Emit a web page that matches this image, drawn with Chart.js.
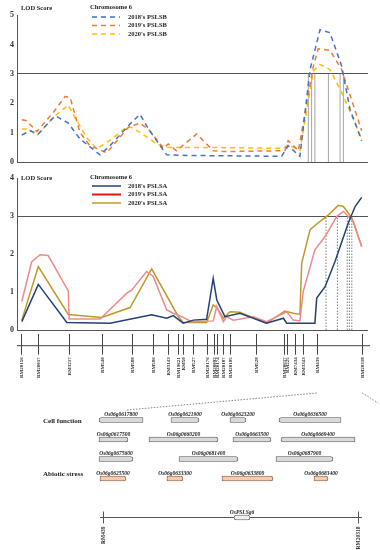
<!DOCTYPE html>
<html>
<head>
<meta charset="utf-8">
<script src="https://cdn.jsdelivr.net/npm/chart.js@4.4.0/dist/chart.umd.min.js"></script>
<style>
  html, body { margin: 0; padding: 0; background: #fff; }
  #wrap { position: relative; width: 380px; height: 550px; overflow: hidden; }
  .box { position: absolute; left: 0; width: 380px; }
</style>
</head>
<body>
<div id="wrap">
  <div class="box" style="top:0;height:170px"><canvas id="pslsb"></canvas></div>
  <div class="box" style="top:165px;height:223px"><canvas id="pslsa"></canvas></div>
  <div class="box" style="top:388px;height:162px"><canvas id="genes"></canvas></div>
</div>
<script>
Chart.defaults.font.family = "'Liberation Serif', serif";
Chart.defaults.animation = false;

// markers on chromosome 6 (cM, estimated from the map)
const markers = ['RM20156','RM20017','RM3217','RM540','RM588','RM586','RM3143','RM19621','RM50','RM527','RM20176','RM20092','RM20174','RM20187','RM20185','RM528','RM20617','RM225','RM7434','RM3343','RM439','RM20318'];
const markerCM = [1.3,6.9,17.3,28.2,38.2,45.4,50.2,53.8,55.4,58.8,63.2,65.8,66.7,68.8,71.0,79.7,89.1,90.1,92.7,95.2,99.9,115.1];
const maxCM = 117;
const lodThreshold = 3;

// PSLSB (top panel)
const pslsbX2018 = [1.6,4.3,7.1,12.7,17.1,21.0,27.7,31.0,37.7,41.0,43.8,49.9,56.6,88.2,90.4,94.3,97.7,101.0,104.3,108.2,111.0,114.9];
const pslsbY2018 = [0.92,1.07,0.96,1.58,1.33,0.79,0.25,0.56,1.30,1.63,1.13,0.25,0.23,0.20,0.56,0.20,3.15,4.50,4.40,3.27,1.80,0.73];
const pslsbX2019 = [1.6,3.2,6.6,12.1,16.0,17.7,21.0,24.3,29.9,37.1,41.0,44.3,48.8,50.4,53.2,59.9,65.4,68.8,89.3,90.4,93.8,98.8,100.4,104.3,108.2,114.9];
const pslsbY2019 = [1.44,1.41,1.04,1.69,2.23,2.20,1.01,0.56,0.32,1.18,1.33,1.07,0.47,0.62,0.39,0.96,0.39,0.36,0.39,0.73,0.39,3.27,3.85,3.80,3.15,1.07];
const pslsbX2020 = [1.6,3.8,6.6,12.1,17.1,19.3,23.2,26.6,31.6,37.1,41.0,46.6,49.9,54.3,65.4,88.8,90.4,94.3,98.8,101.0,104.3,108.8,114.9];
const pslsbY2020 = [1.13,1.13,0.90,1.52,1.94,1.52,0.84,0.45,0.79,1.24,1.01,0.62,0.50,0.50,0.50,0.47,0.60,0.39,3.10,3.32,3.15,2.25,0.79];
const pslsbCuts = [97.1,98.2,99.3,103.8,107.7,108.8];

// PSLSA (middle panel)
const pslsaX2018 = [1.6,7.1,16.6,31.0,44.9,49.9,52.1,55.4,58.8,63.2,65.4,66.6,69.3,74.3,83.2,88.8,89.9,99.3,99.9,102.7,106.0,110.4,112.7,114.9];
const pslsaY2018 = [0.22,1.20,0.20,0.18,0.40,0.31,0.38,0.18,0.26,0.28,1.36,0.79,0.35,0.44,0.18,0.31,0.18,0.18,0.84,1.14,1.80,2.81,3.25,3.49];
const pslsaX2019 = [1.6,4.9,7.7,10.4,17.1,17.4,27.7,36.6,38.2,43.2,45.4,49.9,52.1,54.9,58.2,65.4,66.6,68.8,69.9,72.1,78.8,83.2,89.9,92.1,94.3,95.4,99.3,102.7,106.6,108.8,112.1,114.9];
const pslsaY2019 = [0.75,1.80,1.98,1.96,1.03,0.29,0.29,0.97,1.05,1.54,1.41,0.53,0.44,0.35,0.22,0.24,0.62,0.22,0.35,0.26,0.35,0.22,0.48,0.26,0.24,1.01,2.11,2.46,2.99,3.12,2.86,2.20];
const pslsaX2020 = [1.6,7.1,17.1,28.2,37.7,44.9,53.8,55.4,63.2,65.4,66.6,68.8,71.0,74.3,83.2,89.3,92.1,94.3,94.9,97.7,99.3,103.8,107.1,108.8,111.6,114.9];
const pslsaY2020 = [0.26,1.67,0.41,0.33,0.59,1.61,0.35,0.20,0.20,0.66,0.59,0.31,0.48,0.47,0.18,0.50,0.44,0.41,1.76,2.64,2.75,3.03,3.28,3.25,2.95,2.20];
const pslsaCuts = [103.0,106.8,110.1,110.8,111.6];

// genes between RM439 and RM20318 (kb from RM439, estimated)
const trackKeys = ['cell1','cell2','cell3','abiotic','gap','map'];
const geneNames = ['Os06g0617800','Os06g0621900','Os06g0623200','Os06g0636500','Os06g0617500','Os06g0660200','Os06g0663500','Os06g0669400','Os06g0675600','Os06g0681400','Os06g0687900','Os06g0625500','Os06g0633300','Os06g0633800','Os06g0683400'];
const geneTrack = ['cell1','cell1','cell1','cell1','cell2','cell2','cell2','cell2','cell3','cell3','cell3','abiotic','abiotic','abiotic','abiotic'];
const geneStartKb = [-5,355,650,895,-5,245,665,905,-5,395,880,0,335,610,1070];
const geneEndKb = [215,495,730,1205,140,590,855,1275,165,690,1165,130,415,865,1140];
const geneStrand = ['-','+','+','-','+','+','+','-','+','+','+','+','+','+','+'];
const candidateName = 'OsPSLSg6';
const candidateKb = [670, 750];
const mapMarkers = ['RM439','RM20318'];
const mapMarkerKb = [15, 1290];
const mapSpanKb = [0, 1310];

function pts(xs, ys) { return xs.map((x, i) => ({x: x, y: ys[i]})); }

function cutLines(cuts, color, dash) {
  return cuts.map(c => ({
    data: [{x: c, y: 0}, {x: c, y: lodThreshold}],
    borderColor: color, borderWidth: 1, borderDash: dash, pointRadius: 0
  }));
}

const lodHeader = {
  id: 'lodHeader',
  afterDraw(chart, args, o) {
    const ctx = chart.ctx;
    ctx.save();
    ctx.fillStyle = '#222';
    ctx.font = "bold 6.5px 'Liberation Serif'";
    ctx.textBaseline = 'middle';
    ctx.fillText('LOD Score', o.scoreX, o.scoreY);
    ctx.fillText('Chromosome 6', o.titleX, o.titleY);
    chart.data.datasets.filter(d => d.inLegend).forEach((d, i) => {
      const y = o.rowY + i * o.rowGap;
      ctx.strokeStyle = d.legendColor || d.borderColor;
      ctx.lineWidth = d.legendWidth || d.borderWidth;
      ctx.setLineDash(d.borderDash || []);
      ctx.beginPath();
      ctx.moveTo(o.lineX0, y);
      ctx.lineTo(o.lineX1, y);
      ctx.stroke();
      ctx.setLineDash([]);
      ctx.fillText(d.label, o.textX, y);
    });
    ctx.restore();
  }
};

const markerMap = {
  id: 'markerMap',
  afterDraw(chart) {
    const {ctx, chartArea, scales: {x}} = chart;
    const yLine = chartArea.bottom + 15.7;
    ctx.save();
    ctx.strokeStyle = '#444';
    ctx.lineWidth = 1;
    ctx.beginPath();
    ctx.moveTo(chartArea.left, yLine);
    ctx.lineTo(chartArea.right + 2, yLine);
    ctx.stroke();
    ctx.font = "bold 5px 'Liberation Serif'";
    ctx.fillStyle = '#333';
    markers.forEach((m, i) => {
      const px = Math.round(x.getPixelForValue(markerCM[i])) + 0.5;
      ctx.beginPath();
      ctx.moveTo(px, yLine - 11.7);
      ctx.lineTo(px, yLine + 9);
      ctx.stroke();
      ctx.save();
      ctx.translate(px, yLine + 11.5);
      ctx.rotate(-Math.PI / 2);
      ctx.textAlign = 'right';
      ctx.textBaseline = 'middle';
      ctx.fillText(m, 0, 0);
      ctx.restore();
    });
    ctx.restore();
  }
};

function lodOptions(maxY, pad, header) {
  return {
    responsive: true,
    maintainAspectRatio: false,
    layout: {padding: pad},
    elements: {line: {tension: 0}},
    plugins: {legend: {display: false}, tooltip: {enabled: false}, lodHeader: header},
    scales: {
      x: {type: 'linear', min: 0, max: maxCM, display: false},
      y: {
        min: 0, max: maxY,
        ticks: {stepSize: 1, padding: 3, color: '#333', font: {size: 8, weight: 'bold'}},
        grid: {drawTicks: false, color: c => (c.tick.value === lodThreshold || c.tick.value === 0) ? '#555' : 'rgba(0,0,0,0)'},
        border: {color: '#555', width: 1},
        afterFit(scale) { scale.width = 17; }
      }
    }
  };
}

// top panel: PSLSB
new Chart(document.getElementById('pslsb'), {
  type: 'line',
  data: {
    datasets: [
      {label: "2018's PSLSB", data: pts(pslsbX2018, pslsbY2018), borderColor: '#4472c4', borderWidth: 1.5, borderDash: [5, 4], pointRadius: 0, inLegend: true},
      {label: "2019's PSLSB", data: pts(pslsbX2019, pslsbY2019), borderColor: '#ed7d31', borderWidth: 1.5, borderDash: [5, 4], pointRadius: 0, inLegend: true},
      {label: "2020's PSLSB", data: pts(pslsbX2020, pslsbY2020), borderColor: '#ffc000', borderWidth: 1.5, borderDash: [5, 4], pointRadius: 0, inLegend: true}
    ].concat(cutLines(pslsbCuts, '#a6a6a6', []))
  },
  options: lodOptions(5, {top: 15, right: 12, bottom: 7, left: 0},
    {scoreX: 21, scoreY: 8, titleX: 90, titleY: 7, rowY: 17, rowGap: 8.5, lineX0: 92, lineX1: 120, textX: 128}),
  plugins: [lodHeader]
});

// middle panel: PSLSA + marker map
const pslsaChart = new Chart(document.getElementById('pslsa'), {
  type: 'line',
  data: {
    datasets: [
      {label: "2018's PSLSA", data: pts(pslsaX2018, pslsaY2018), borderColor: '#22407a', borderWidth: 1.5, pointRadius: 0, inLegend: true},
      {label: "2019's PSLSA", data: pts(pslsaX2019, pslsaY2019), borderColor: '#ee8a8c', borderWidth: 1.5, pointRadius: 0, inLegend: true, legendColor: '#e8141b', legendWidth: 2},
      {label: "2020's PSLSA", data: pts(pslsaX2020, pslsaY2020), borderColor: '#bf9a2a', borderWidth: 1.5, pointRadius: 0, inLegend: true}
    ].concat(cutLines(pslsaCuts, '#7f7f7f', [1.5, 1.5]))
  },
  options: lodOptions(4, {top: 13, right: 12, bottom: 58, left: 0},
    {scoreX: 21, scoreY: 13, titleX: 90, titleY: 12, rowY: 21, rowGap: 8.5, lineX0: 92, lineX1: 121, textX: 128}),
  plugins: [lodHeader, markerMap]
});

// bottom panel: genes in the RM439 - RM20318 interval
const geneTracks = {
  id: 'geneTracks',
  beforeDatasetsDraw(chart) {
    const {ctx, scales: {x, y}} = chart;
    ctx.save();
    // zoom lines from the marker map
    const bx = pslsaChart.scales.x;
    const x439 = bx.getPixelForValue(markerCM[markers.indexOf('RM439')]);
    const x318 = bx.getPixelForValue(markerCM[markers.indexOf('RM20318')]);
    ctx.strokeStyle = '#666';
    ctx.lineWidth = 0.8;
    ctx.setLineDash([1.5, 1.5]);
    ctx.beginPath();
    ctx.moveTo(x439, 5);
    ctx.lineTo(x.getPixelForValue(mapSpanKb[0]) + 27, 22);
    ctx.moveTo(x318, 5);
    ctx.lineTo(x318 + 16, 15);
    ctx.stroke();
    ctx.setLineDash([]);
    // physical map line
    const ym = y.getPixelForValue('map');
    ctx.strokeStyle = '#555';
    ctx.lineWidth = 1;
    ctx.beginPath();
    ctx.moveTo(x.getPixelForValue(mapSpanKb[0]), ym);
    ctx.lineTo(x.getPixelForValue(mapSpanKb[1]), ym);
    ctx.stroke();
    ctx.font = "bold 5.5px 'Liberation Serif'";
    ctx.fillStyle = '#333';
    mapMarkers.forEach((m, i) => {
      const px = Math.round(x.getPixelForValue(mapMarkerKb[i])) + 0.5;
      ctx.beginPath();
      ctx.moveTo(px, ym - 6);
      ctx.lineTo(px, ym + 6);
      ctx.stroke();
      ctx.save();
      ctx.translate(px, ym + 9);
      ctx.rotate(-Math.PI / 2);
      ctx.textAlign = 'right';
      ctx.textBaseline = 'middle';
      ctx.fillText(m, 0, 0);
      ctx.restore();
    });
    ctx.restore();
  },
  afterDatasetsDraw(chart) {
    const {ctx, scales: {y}} = chart;
    ctx.save();
    ctx.fillStyle = '#222';
    ctx.textBaseline = 'middle';
    ctx.font = "bold 7px 'Liberation Serif'";
    ctx.fillText('Cell function', 43, y.getPixelForValue('cell1') + 1);
    ctx.fillText('Abiotic stress', 43, y.getPixelForValue('abiotic') - 4);
    ctx.font = "bold italic 5.5px 'Liberation Serif'";
    ctx.textAlign = 'center';
    ctx.textBaseline = 'alphabetic';
    chart.data.datasets.forEach((ds, di) => {
      chart.getDatasetMeta(di).data.forEach((bar, i) => {
        ctx.fillText(ds.data[i].name, (bar.x + bar.base) / 2, bar.y - 4);
      });
    });
    ctx.restore();
  }
};

function geneBars(group) {
  return geneNames.map((n, i) => ({x: [geneStartKb[i], geneEndKb[i]], y: geneTrack[i], name: n, strand: geneStrand[i]}))
    .filter(g => (g.y === 'abiotic') === (group === 'abiotic'));
}

const arrowEnd = c => (c.raw && c.raw.strand === '-') ? {topLeft: 2.5, bottomLeft: 2.5} : {topRight: 2.5, bottomRight: 2.5};

new Chart(document.getElementById('genes'), {
  type: 'bar',
  data: {
    labels: trackKeys,
    datasets: [
      {data: geneBars('cell'), backgroundColor: '#d9d9d9', borderColor: '#595959', borderWidth: 0.8, borderSkipped: false, borderRadius: arrowEnd, barThickness: 5, grouped: false, clip: false},
      {data: geneBars('abiotic'), backgroundColor: '#f8cbad', borderColor: '#7a5a4a', borderWidth: 0.8, borderSkipped: false, borderRadius: arrowEnd, barThickness: 5, grouped: false, clip: false},
      {data: [{x: candidateKb, y: 'map', name: candidateName, strand: '+'}], backgroundColor: '#eeeeee', borderColor: '#595959', borderWidth: 0.8, borderSkipped: false, borderRadius: 2.5, barThickness: 5, grouped: false, clip: false}
    ]
  },
  options: {
    responsive: true,
    maintainAspectRatio: false,
    indexAxis: 'y',
    layout: {padding: {top: 22.25, bottom: 22.75, left: 100, right: 20}},
    plugins: {legend: {display: false}, tooltip: {enabled: false}},
    scales: {
      x: {type: 'linear', min: 0, max: 1300, display: false},
      y: {type: 'category', display: false}
    }
  },
  plugins: [geneTracks]
});
</script>
</body>
</html>
